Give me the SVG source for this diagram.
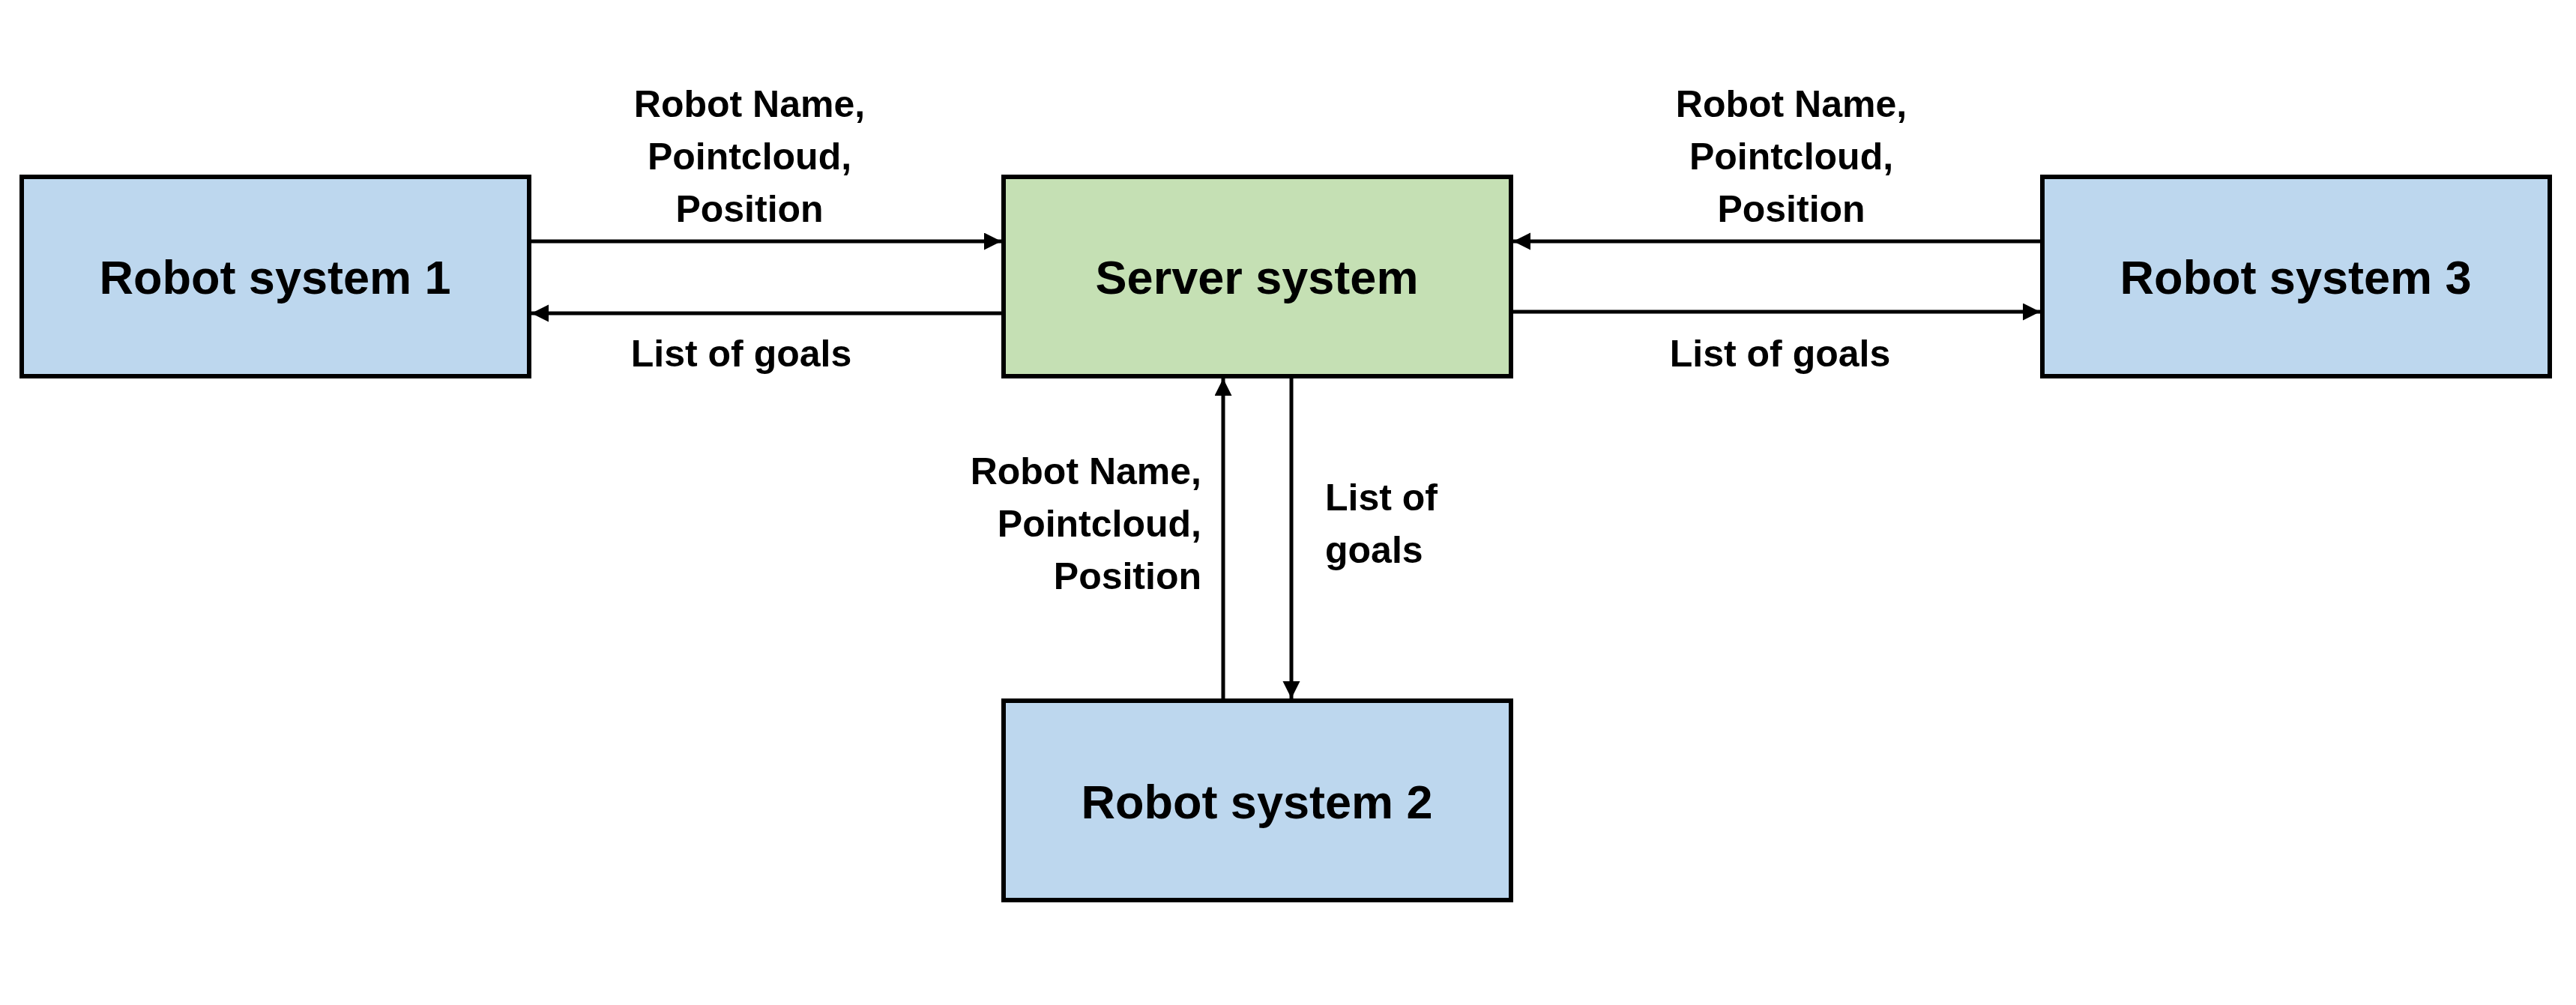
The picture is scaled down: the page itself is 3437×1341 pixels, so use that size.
<svg xmlns="http://www.w3.org/2000/svg" width="3437" height="1341" viewBox="0 0 3437 1341">
<style>
.box{stroke:#000;stroke-width:6}
.robot{fill:#BDD7EE}
.server{fill:#C5E0B4}
.title{font-family:"Liberation Sans",Arial,sans-serif;font-weight:bold;font-size:63px;fill:#000;text-anchor:middle}
.lbl{font-family:"Liberation Sans",Arial,sans-serif;font-weight:bold;font-size:50px;fill:#000}
.conn{stroke:#000;stroke-width:5;fill:none;marker-end:url(#ah)}
</style>
<defs>
<marker id="ah" markerUnits="userSpaceOnUse" markerWidth="24" markerHeight="24" refX="23" refY="11.5" orient="auto">
<path d="M0,0 L23,11.5 L0,23 Z" fill="#000"/>
</marker>
</defs>
<rect width="3437" height="1341" fill="#fff"/>
<g id="connectors">
<line class="conn" x1="709" y1="322" x2="1336" y2="322"/>
<line class="conn" x1="1336" y1="418" x2="709" y2="418"/>
<line class="conn" x1="2722" y1="322" x2="2019" y2="322"/>
<line class="conn" x1="2019" y1="416" x2="2722" y2="416"/>
<line class="conn" x1="1632" y1="932" x2="1632" y2="505"/>
<line class="conn" x1="1723" y1="505" x2="1723" y2="932"/>
</g>
<g id="labels">
<text class="lbl" text-anchor="middle" x="1000" y="156">Robot Name,</text>
<text class="lbl" text-anchor="middle" x="1000" y="226">Pointcloud,</text>
<text class="lbl" text-anchor="middle" x="1000" y="296">Position</text>
<text class="lbl" text-anchor="middle" x="989" y="489">List of goals</text>
<text class="lbl" text-anchor="middle" x="2390" y="156">Robot Name,</text>
<text class="lbl" text-anchor="middle" x="2390" y="226">Pointcloud,</text>
<text class="lbl" text-anchor="middle" x="2390" y="296">Position</text>
<text class="lbl" text-anchor="middle" x="2375" y="489">List of goals</text>
<text class="lbl" text-anchor="end" x="1603" y="646">Robot Name,</text>
<text class="lbl" text-anchor="end" x="1603" y="716">Pointcloud,</text>
<text class="lbl" text-anchor="end" x="1603" y="786">Position</text>
<text class="lbl" text-anchor="start" x="1768" y="681">List of</text>
<text class="lbl" text-anchor="start" x="1768" y="751">goals</text>
</g>
<g id="robot1">
<rect class="box robot" x="29" y="236" width="677" height="266"/>
<text class="title" x="367" y="392">Robot system 1</text>
</g>
<g id="server">
<rect class="box server" x="1339" y="236" width="677" height="266"/>
<text class="title" x="1677" y="392">Server system</text>
</g>
<g id="robot2">
<rect class="box robot" x="1339" y="935" width="677" height="266"/>
<text class="title" x="1677" y="1092">Robot system 2</text>
</g>
<g id="robot3">
<rect class="box robot" x="2725" y="236" width="677" height="266"/>
<text class="title" x="3063" y="392">Robot system 3</text>
</g>
</svg>
